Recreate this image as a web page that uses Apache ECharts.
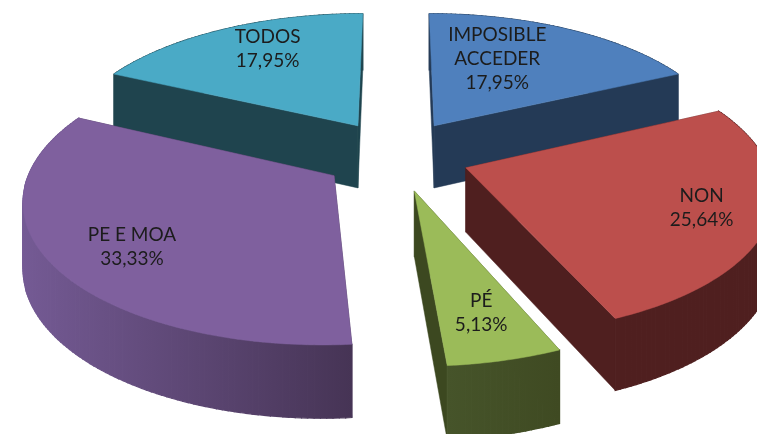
<!DOCTYPE html>
<html>
<head>
<meta charset="utf-8">
<style>html,body{margin:0;padding:0;background:#fff}#c{width:757px;height:434px}</style>
<script src="https://cdn.jsdelivr.net/npm/echarts@6/dist/echarts.min.js"></script>
</head>
<body>
<div id="c"></div>
<script>
const categories = ['IMPOSIBLE\nACCEDER', 'NON', 'PÉ', 'PE E MOA', 'TODOS'];
const values = [17.95, 25.64, 5.13, 33.33, 17.95];
const valueLabels = ['17,95%', '25,64%', '5,13%', '33,33%', '17,95%'];

const topColors = ['#4f80bd', '#bc4f4c', '#9bbb59', '#7f609e', '#4aaac6'];
const edgeColors = ['#243a56', '#4f1f1f', '#3c4820', '#463455', '#1f444e'];
const rimFrom = ['#243a56', '#4f1f1f', '#46542a', '#745a94', '#1f444e'];
const rimTo = ['#243a56', '#4f1f1f', '#3f4a22', '#463455', '#1f444e'];
const labelRadius = [0.62, 0.785, 0.755, 0.757, 0.7446];
const labelAngle = [23.5, 110.3, 165.9, 232.4, 331.6];

const CX = 396, CY = 155, RX = 299, RY = 137, K = 0.15, DEPTH = 63.6;
const EX = 0.246, EY = 0.26;
const total = values.reduce((a, b) => a + b, 0);
const rad = d => d * Math.PI / 180;

function project(X, Y, drop) {
  const s = 1 / (1 + K * Y);
  return [CX + RX * X * s, CY - RY * Y * s + (drop ? DEPTH * Math.pow(s, 0.75) : 0)];
}

function renderItem(params, api) {
  const i = api.value(0);
  let start = 0;
  for (let j = 0; j < i; j++) start += values[j] / total * 360;
  const end = start + api.value(1) / total * 360;
  const mid = (start + end) / 2;
  const ox = EX * Math.sin(rad(mid)), oy = EY * Math.cos(rad(mid));
  const z = Math.round((1 - oy) * 100) * 10;

  const arc = drop => {
    const pts = [];
    const n = Math.max(4, Math.ceil(end - start));
    for (let k = 0; k <= n; k++) {
      const a = rad(start + (end - start) * k / n);
      pts.push(project(ox + Math.sin(a), oy + Math.cos(a), drop));
    }
    return pts;
  };
  const topArc = arc(false), botArc = arc(true);
  const apex = project(ox, oy, false), apexB = project(ox, oy, true);
  const last = topArc.length - 1;
  const poly = (points, fill, layer, lineWidth) => ({
    type: 'polygon', silent: true, z2: z + layer,
    shape: { points },
    style: { fill, stroke: fill, lineWidth: lineWidth || 0.5 }
  });
  const xs = botArc.map(p => p[0]);
  const minX = Math.min.apply(null, xs), maxX = Math.max.apply(null, xs);
  const rimFill = new echarts.graphic.LinearGradient(minX, 0, maxX, 0, [
    { offset: 0, color: rimFrom[i] }, { offset: 1, color: rimTo[i] }
  ], true);
  const rimQuads = [];
  for (let k = 0; k < last; k++) {
    rimQuads.push(poly([topArc[k], topArc[k + 1], botArc[k + 1], botArc[k]], rimFill, 2, 1.2));
  }
  const lr = labelRadius[i], la = rad(labelAngle[i]);
  const lp = project(ox + lr * Math.sin(la), oy + lr * Math.cos(la), false);

  return {
    type: 'group',
    children: [
      poly([apex, topArc[0], botArc[0], apexB], edgeColors[i], 0),
      poly([apex, topArc[last], botArc[last], apexB], edgeColors[i], 1)
    ].concat(rimQuads, [
      poly([apex].concat(topArc), topColors[i], 3),
      {
        type: 'text', silent: true, z2: 100000,
        x: lp[0], y: lp[1],
        style: {
          text: categories[i] + '\n' + valueLabels[i],
          fill: '#1c1c1c',
          font: '19px Lato, "Open Sans", sans-serif',
          lineHeight: 24,
          align: 'center',
          verticalAlign: 'middle'
        }
      }
    ])
  };
}

const chart = echarts.init(document.getElementById('c'), null, { renderer: 'canvas' });
chart.setOption({
  animation: false,
  backgroundColor: '#ffffff',
  series: [{
    type: 'custom',
    coordinateSystem: 'none',
    renderItem,
    encode: { value: [1] },
    data: values.map((v, i) => [i, v])
  }]
});
</script>
</body>
</html>
